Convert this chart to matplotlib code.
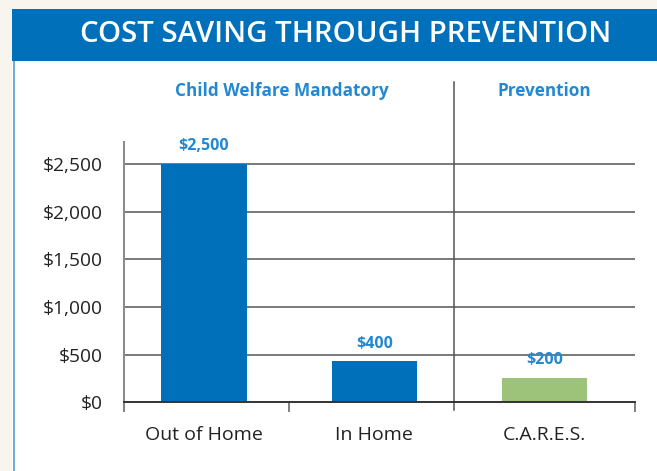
import matplotlib
matplotlib.use("Agg")
import matplotlib.pyplot as plt
from matplotlib.patches import Rectangle
from matplotlib.lines import Line2D

title = "COST SAVING THROUGH PREVENTION"
categories = ["Out of Home", "In Home", "C.A.R.E.S."]
bar_heights = [2500, 430, 258]
value_labels = ["$2,500", "$400", "$200"]
groups = ["Child Welfare Mandatory", "Prevention"]
yticks = [0, 500, 1000, 1500, 2000, 2500]
ytick_labels = ["$0", "$500", "$1,000", "$1,500", "$2,000", "$2,500"]

BLUE = "#0070BB"
TEXT_BLUE = "#2288D3"
GREEN = "#9DC27A"
CREAM = "#F7F5EE"
bar_colors = [BLUE, BLUE, GREEN]

plt.rcParams['font.family'] = ['Open Sans', 'DejaVu Sans']

W, H = 657, 471
fig = plt.figure(figsize=(W / 100, H / 100), dpi=100)
fig.patch.set_facecolor(CREAM)

# white panel and banner
fig.patches.append(Rectangle((12 / W, 0), 1 - 12 / W, 1 - 61 / H, transform=fig.transFigure,
                             facecolor="white", edgecolor="none", zorder=-10))
fig.lines.append(Line2D([13.5 / W, 13.5 / W], [0, 1 - 61 / H], transform=fig.transFigure,
                        color="#5A9BD5", lw=1.2, zorder=-9))
fig.patches.append(Rectangle((12 / W, 1 - 61 / H), 1 - 12 / W, 52 / H, transform=fig.transFigure,
                             facecolor=BLUE, edgecolor="none", zorder=-9))
fig.text(346 / W, 1 - 34 / H, title, color="white", fontsize=21.2, fontweight="semibold",
         ha="center", va="center", zorder=2)

left, right = 124 / W, 635 / W
bottom = 1 - 402.3 / H
top = 1 - 142 / H
ax = fig.add_axes([left, bottom, right - left, top - bottom])
ax.set_zorder(5)
ax.set_facecolor("none")
ymax = 2730
x0, x1 = -0.47, 2.53
ax.set_ylim(0, ymax)
ax.set_xlim(x0, x1)

x = list(range(len(categories)))
ax.bar(x, bar_heights, width=0.5, color=bar_colors, zorder=3)
for xi, h, lab in zip(x, bar_heights, value_labels):
    ax.annotate(lab, (xi, h), xytext=(0, 7), textcoords="offset points", ha="center",
                va="bottom", color=TEXT_BLUE, fontsize=11.5, fontweight="bold")

for yv in yticks[1:]:
    ax.axhline(yv, color="#555555", lw=1.1, zorder=2)

for s in ["top", "right"]:
    ax.spines[s].set_visible(False)
ax.spines["left"].set_color("#888888")
ax.spines["left"].set_linewidth(1.4)
ax.spines["bottom"].set_color("#333333")
ax.spines["bottom"].set_linewidth(1.4)
ax.spines["bottom"].set_zorder(4)

ax.set_yticks(yticks)
ax.set_yticklabels(ytick_labels, fontsize=13.8, color="#222222")
ax.tick_params(axis="y", length=0, pad=15)

ax.set_xticks(x)
ax.set_xticklabels(categories, fontsize=14, color="#222222")
ax.tick_params(axis="x", which="major", length=0, pad=17)
ax.set_xticks([x0, 0.5, x1], minor=True)
ax.tick_params(axis="x", which="minor", length=7, width=1.3, color="#777777")

# divider between groups
ax.plot([1.468, 1.468], [-80, ymax + 630], color="#555555", lw=1.1, clip_on=False, zorder=2)

ax.text(0.457, ymax + 540, groups[0], ha="center", va="center", color=TEXT_BLUE,
        fontsize=12.3, fontweight="bold")
ax.text(2.0, ymax + 540, groups[1], ha="center", va="center", color=TEXT_BLUE,
        fontsize=12.3, fontweight="bold")

fig.savefig("out.png", dpi=100, facecolor=fig.get_facecolor())
